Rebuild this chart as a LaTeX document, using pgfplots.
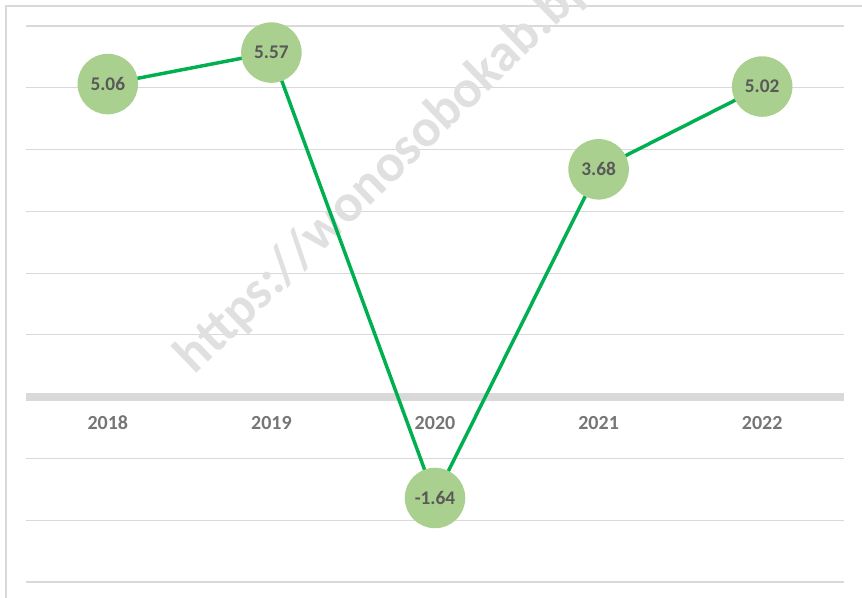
\documentclass[border=0pt]{standalone}
\usepackage{fontspec}
\setmainfont{Carlito}
\usepackage{pgfplots}
\pgfplotsset{compat=1.18}
\definecolor{linegreen}{RGB}{0,176,80}
\definecolor{dotgreen}{RGB}{169,208,142}
\definecolor{gridgray}{RGB}{217,217,217}
\definecolor{labgray}{RGB}{89,89,89}
\definecolor{yeargray}{RGB}{118,118,118}
\definecolor{wmgray}{RGB}{224,224,224}

\begin{document}
\begin{tikzpicture}
% 1 px of the 862x598 reference = 0.75pt, y from the bottom
\begin{scope}
\clip (0pt,0pt) rectangle (646.5pt,448.5pt);
\draw[gridgray, line width=0.9pt] (4.5pt,-2pt) -- (4.5pt,444pt) -- (650pt,444pt);
\node[rotate=44, anchor=base west, text=wmgray, inner sep=0pt,
      font=\bfseries\fontsize{40}{42}\selectfont] at (146pt,167pt) {https://wonosobokab.bps.go.id};
\end{scope}
\begin{axis}[
  at={(19.5pt,12pt)}, anchor=south west, scale only axis,
  width=613.5pt, height=417pt,
  set layers, clip=false,
  xmin=-0.5, xmax=4.5, ymin=-3, ymax=6,
  axis x line=middle, axis y line=left,
  x axis line style={-, gridgray, line width=6pt},
  y axis line style={draw=none},
  xtick={0,...,4}, xticklabels={2018,2019,2020,2021,2022},
  ytick={-3,...,6}, yticklabels={},
  ymajorgrids, grid style={gridgray, line width=0.9pt},
  major tick length=0pt,
  xticklabel style={font=\bfseries\fontsize{15}{17}\selectfont, text=yeargray, yshift=-11pt}]
% growth rate, percent
\addplot[linegreen, line width=2.6pt, mark=*, mark size=21.4pt,
  mark options={draw=dotgreen, fill=dotgreen},
  nodes near coords,
  every node near coord/.append style={anchor=center, font=\bfseries\fontsize{14.5}{16}\selectfont, text=labgray},
  /pgf/number format/.cd, fixed, fixed zerofill, precision=2, assume math mode=true]
  coordinates {(0,5.06)(1,5.57)(2,-1.64)(3,3.68)(4,5.02)};
\end{axis}
\pgfresetboundingbox
\useasboundingbox (0pt,0pt) rectangle (646.5pt,448.5pt);
\end{tikzpicture}
\end{document}
